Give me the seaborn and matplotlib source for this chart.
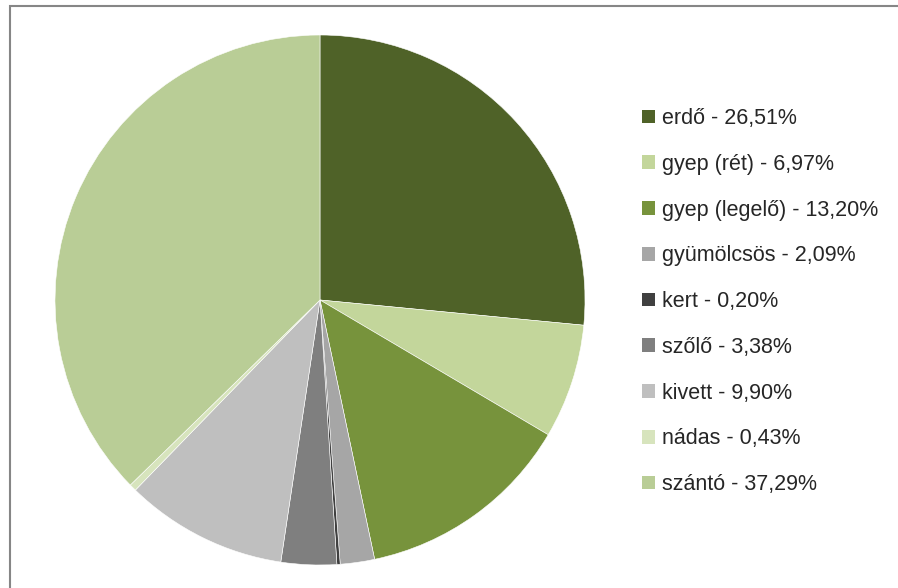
import matplotlib
matplotlib.use("Agg")
import matplotlib.pyplot as plt
import matplotlib.patches as mpatches
import seaborn as sns

categories = ["erdő", "gyep (rét)", "gyep (legelő)", "gyümölcsös", "kert",
              "szőlő", "kivett", "nádas", "szántó"]
values = [26.51, 6.97, 13.20, 2.09, 0.20, 3.38, 9.90, 0.43, 37.29]
colors = ["#4F6228", "#C3D69B", "#77933C", "#A6A6A6", "#404040",
          "#7F7F7F", "#BFBFBF", "#D7E4BD", "#B9CD96"]
labels = [f"{c} - {v:.2f}%".replace(".", ",") for c, v in zip(categories, values)]

sns.set_theme(style="white")
plt.rcParams["font.family"] = ["Liberation Sans", "DejaVu Sans"]

fig = plt.figure(figsize=(8.98, 5.88), dpi=100)
W, H = 898, 588
ax = fig.add_axes([55 / W, 23 / H, 530 / W, 530 / H])
wedges, _ = ax.pie(values, colors=colors, startangle=90, counterclock=False,
                   radius=1.0, wedgeprops=dict(linewidth=0.4, edgecolor="white"))
ax.set_xlim(-1, 1)
ax.set_ylim(-1, 1)
ax.set_axis_off()

leg = fig.legend(wedges, labels, loc="upper left",
                 bbox_to_anchor=(642 / W, 1 - 108 / H),
                 frameon=False, fontsize=15.5, handlelength=0.6, handleheight=0.6,
                 handletextpad=0.35, labelspacing=1.15, borderaxespad=0, borderpad=0)
for h in leg.legend_handles:
    h.set_edgecolor("none")

frame = mpatches.Rectangle((9.5 / W, -0.2), 1.5, 1.2 - 6 / H, transform=fig.transFigure,
                           fill=False, edgecolor="#868686", linewidth=1.5, clip_on=False)
fig.patches.append(frame)

fig.savefig("out.png", dpi=100, facecolor="white")
